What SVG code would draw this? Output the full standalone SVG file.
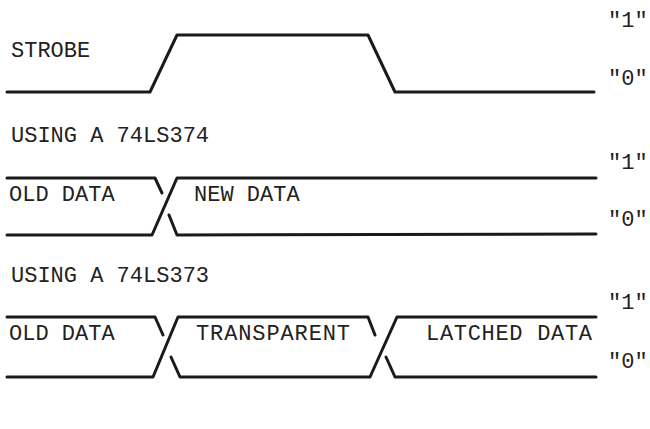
<svg xmlns="http://www.w3.org/2000/svg" width="650" height="429" viewBox="0 0 650 429">
<style>
.w{fill:none;stroke:#1a1a1a;stroke-width:3;stroke-linejoin:round;stroke-linecap:round}
.t{font-family:"Liberation Mono","DejaVu Sans Mono",monospace;font-size:22px;fill:#222}
</style>
<rect width="650" height="429" fill="#fff"/>
<g id="strobe">
<text class="t" x="11" y="57">STROBE</text>
<text class="t" x="608" y="27">"1"</text>
<text class="t" x="608" y="85">"0"</text>
</g>
<g id="ls374">
<text class="t" x="11" y="142">USING A 74LS374</text>
<text class="t" x="9" y="201">OLD DATA</text>
<text class="t" x="194" y="201">NEW DATA</text>
<text class="t" x="608" y="169">"1"</text>
<text class="t" x="608" y="226">"0"</text>
</g>
<g id="ls373">
<text class="t" x="11" y="282">USING A 74LS373</text>
<text class="t" x="9" y="340">OLD DATA</text>
<text class="t" x="196" y="340" textLength="154">TRANSPARENT</text>
<text class="t" x="426" y="340" textLength="166">LATCHED DATA</text>
<text class="t" x="608" y="309">"1"</text>
<text class="t" x="608" y="368">"0"</text>
</g>
<g id="connectors">
<polyline class="w" points="7,92 150,92 177,35 368,35 395,92 594,92"/>
<polyline class="w" points="7,178 155,178 162,193"/>
<polyline class="w" points="7,235 152,235 177,178 596,178"/>
<polyline class="w" points="169,215 177,235 596,234"/>
<polyline class="w" points="7,317 155,317 163,335"/>
<polyline class="w" points="7,377 153,377 178,317 368,317 375,335"/>
<polyline class="w" points="171,357 180,377 370,377 397,317 596,317"/>
<polyline class="w" points="386,357 395,377 596,377"/>
</g>
</svg>
